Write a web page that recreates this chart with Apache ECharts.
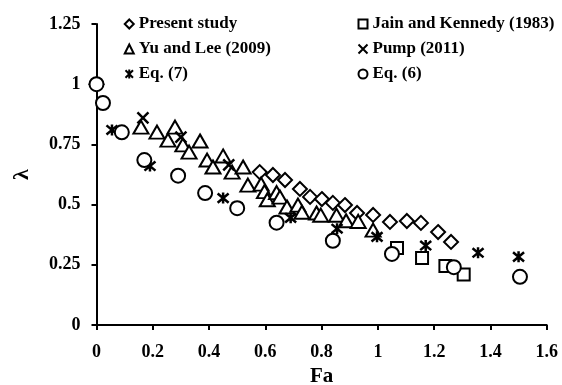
<!DOCTYPE html>
<html>
<head>
<meta charset="utf-8">
<script src="https://cdn.jsdelivr.net/npm/echarts@6/dist/echarts.min.js"></script>
<style>
  html, body { margin: 0; padding: 0; background: #fff; }
  #chart { width: 562px; height: 385px; }
</style>
</head>
<body>
<div id="chart"></div>
<script>
// [Fa, lambda]
const presentStudy = [
  [0, 1], [0.58, 0.635], [0.627, 0.623], [0.67, 0.602], [0.723, 0.565], [0.759, 0.532],
  [0.801, 0.523], [0.84, 0.507], [0.883, 0.498], [0.926, 0.465], [0.983, 0.457],
  [1.043, 0.428], [1.103, 0.432], [1.153, 0.424], [1.214, 0.386], [1.26, 0.345],
];
const jainKennedy = [[1.068, 0.32], [1.157, 0.278], [1.24, 0.245], [1.305, 0.21]];
const yuLee = [
  [0.158, 0.822], [0.215, 0.801], [0.254, 0.768], [0.279, 0.822], [0.307, 0.748],
  [0.329, 0.718], [0.368, 0.764], [0.393, 0.685], [0.414, 0.656], [0.45, 0.702],
  [0.482, 0.635], [0.521, 0.656], [0.538, 0.581], [0.585, 0.585], [0.597, 0.554],
  [0.607, 0.52], [0.64, 0.55], [0.652, 0.531], [0.677, 0.49], [0.716, 0.498],
  [0.73, 0.468], [0.782, 0.465], [0.797, 0.456], [0.853, 0.456], [0.887, 0.433],
  [0.93, 0.43], [0.983, 0.394],
];
const pump = [[0.165, 0.86], [0.3, 0.78], [0.47, 0.665]];
const eq7 = [
  [0, 1], [0.055, 0.81], [0.19, 0.66], [0.45, 0.527], [0.5, 0.49], [0.69, 0.445],
  [0.855, 0.4], [0.997, 0.366], [1.17, 0.33], [1.356, 0.3], [1.5, 0.283],
];
const eq6 = [
  [0, 1], [0.023, 0.922], [0.09, 0.8], [0.17, 0.685], [0.29, 0.62], [0.386, 0.548],
  [0.5, 0.485], [0.64, 0.425], [0.84, 0.35], [1.05, 0.295], [1.27, 0.24], [1.505, 0.2],
];

const font = 'Liberation Serif';
const crossPath = 'path://M0,0L10,10M10,0L0,10';
const starPath = 'path://M0,0L10,10M10,0L0,10M5,-1L5,11';

const hollow = { color: '#fff', borderColor: '#000', borderWidth: 2, opacity: 1 };
const stroke = { color: 'none', borderColor: '#000', borderWidth: 2.5, opacity: 1 };

function makeSeries(name, data, symbol, size, style) {
  return {
    name: name,
    type: 'scatter',
    data: data,
    symbol: symbol,
    symbolSize: size,
    itemStyle: style,
    emphasis: { disabled: true },
  };
}

const legendText = {
  fontFamily: font, fontWeight: 'bold', fontSize: 17, lineHeight: 18, color: '#000',
};

const myChart = echarts.init(document.getElementById('chart'));

const option = {
  animation: false,
  backgroundColor: '#fff',
  grid: { left: 96.5, right: 15.3, top: 24, bottom: 60, outerBoundsMode: 'none' },
  legend: [{
    orient: 'vertical',
    left: 123,
    top: 15,
    padding: 0,
    itemWidth: 9,
    itemHeight: 9,
    itemGap: 7,
    textStyle: legendText,
    data: ['Present study', 'Yu and Lee (2009)', 'Eq. (7)'],
  }, {
    orient: 'vertical',
    left: 356,
    top: 15,
    padding: 0,
    itemWidth: 9,
    itemHeight: 9,
    itemGap: 7,
    textStyle: legendText,
    data: ['Jain and Kennedy (1983)', 'Pump (2011)', 'Eq. (6)'],
  }],
  xAxis: {
    type: 'value',
    min: 0,
    max: 1.6,
    interval: 0.2,
    name: 'Fa',
    nameLocation: 'middle',
    nameGap: 39,
    nameTextStyle: { fontFamily: font, fontWeight: 'bold', fontSize: 21, color: '#000' },
    axisLine: { onZero: false, lineStyle: { color: '#000', width: 2 } },
    axisTick: { inside: false, length: 5, lineStyle: { color: '#000', width: 2 } },
    axisLabel: { margin: 18, fontFamily: font, fontWeight: 'bold', fontSize: 18, color: '#000' },
    splitLine: { show: false },
  },
  yAxis: {
    type: 'value',
    min: 0,
    max: 1.25,
    interval: 0.25,
    name: 'λ',
    nameLocation: 'middle',
    nameGap: 63,
    nameTextStyle: { fontFamily: font, fontWeight: 'bold', fontSize: 22, color: '#000' },
    axisLine: { show: true, onZero: false, lineStyle: { color: '#000', width: 2 } },
    axisTick: { show: true, inside: false, length: 5, lineStyle: { color: '#000', width: 2 } },
    axisLabel: { margin: 16, fontFamily: font, fontWeight: 'bold', fontSize: 18, color: '#000' },
    splitLine: { show: false },
  },
  series: [
    makeSeries('Present study', presentStudy, 'diamond', [14, 14], hollow),
    makeSeries('Jain and Kennedy (1983)', jainKennedy, 'rect', 12, hollow),
    makeSeries('Yu and Lee (2009)', yuLee, 'triangle', [15, 13], hollow),
    makeSeries('Pump (2011)', pump, crossPath, 11, stroke),
    makeSeries('Eq. (7)', eq7, starPath, 11, stroke),
    makeSeries('Eq. (6)', eq6, 'circle', 14, hollow),
  ],
};

myChart.setOption(option);
</script>
</body>
</html>
